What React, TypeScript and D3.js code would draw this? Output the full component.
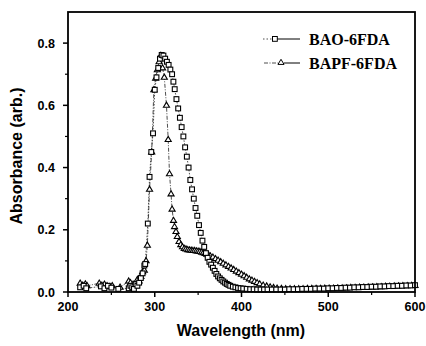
import React from "react";
import * as d3 from "d3";

const baoWavelength = [214,218,221,238,242,246,250,258,270,272,274,276,278,280,282,284,286,288,289,292,294,296,298,300,302,304,306,308,310,312,314,316,318,320,321.5,323,325,327,329,331,333,335,337,339,341,343,345,347,349,351,353,355,357,359,361,363,365,367,369,371,373,375,377,379,381,383,385,387,390,393,396,399,402,406,410,414,418,422,426,430,435,440,445,450,455,460,465,470,475,480,485,490,495,500,505,510,515,520,525,530,535,540,545,550,555,560,565,570,575,580,585,590,595,600];
const baoAbsorbance = [0.015,0.02,0.012,0.018,0.012,0.02,0.014,0.01,0.012,0.02,0.015,0.01,0.025,0.02,0.03,0.045,0.06,0.085,0.09,0.22,0.37,0.45,0.51,0.65,0.69,0.72,0.75,0.762,0.76,0.75,0.74,0.73,0.715,0.70,0.676,0.652,0.62,0.59,0.56,0.53,0.5,0.465,0.435,0.4,0.36,0.33,0.3,0.27,0.245,0.215,0.19,0.165,0.145,0.125,0.11,0.097,0.088,0.078,0.068,0.058,0.05,0.044,0.039,0.034,0.03,0.026,0.023,0.02,0.017,0.015,0.013,0.012,0.011,0.01,0.009,0.009,0.008,0.008,0.008,0.008,0.008,0.008,0.008,0.008,0.009,0.009,0.009,0.01,0.01,0.01,0.011,0.011,0.011,0.012,0.012,0.013,0.013,0.014,0.014,0.015,0.015,0.016,0.016,0.017,0.017,0.018,0.018,0.019,0.019,0.02,0.02,0.021,0.021,0.022];

const bapfWavelength = [214,217,220,222,236,239,242,245,248,251,260,270,272,275,278,280,282,284,286,288,290,291.5,294,296.5,299,301,303,305,307,309,311,313.5,315.5,317,318.8,320,321.6,322.8,324.5,326,328,330,332,334,336,338,340,342,344,346,348,350,352,354,356,358,360,362,364,367,370,373,376,379,382,385,388,391,394,397,400,403,406,409,412,415,418,421,425,429,433,437,441,446,451,456,461,466,471,476,481,486,491,496,501,506,511,516,521,526,531,536,541,546,551,556,561,566,571,576,581,586,591,596,600];
const bapfAbsorbance = [0.028,0.022,0.026,0.02,0.028,0.022,0.025,0.02,0.017,0.02,0.015,0.035,0.03,0.025,0.02,0.04,0.035,0.05,0.065,0.07,0.1,0.15,0.33,0.45,0.65,0.687,0.714,0.74,0.76,0.72,0.69,0.6,0.49,0.38,0.315,0.266,0.23,0.21,0.194,0.178,0.162,0.152,0.145,0.14,0.138,0.136,0.135,0.134,0.133,0.133,0.132,0.131,0.13,0.128,0.126,0.124,0.121,0.119,0.116,0.112,0.107,0.102,0.097,0.092,0.087,0.082,0.077,0.072,0.067,0.062,0.057,0.052,0.047,0.042,0.038,0.034,0.03,0.026,0.022,0.019,0.016,0.014,0.012,0.011,0.01,0.01,0.01,0.01,0.01,0.011,0.011,0.011,0.011,0.012,0.012,0.012,0.013,0.013,0.013,0.014,0.014,0.015,0.015,0.016,0.016,0.017,0.017,0.018,0.018,0.019,0.019,0.02,0.02,0.021,0.021];

const xMajorTicks = [200, 300, 400, 500, 600];
const xMinorTicks = [250, 350, 450, 550];
const yMajorTicks = [0.0, 0.2, 0.4, 0.6, 0.8];
const yMinorTicks = [0.1, 0.3, 0.5, 0.7];
const seriesNames = ["BAO-6FDA", "BAPF-6FDA"];

const W = 426, H = 346;
const left = 68, right = 415, top = 12, bottom = 292;

export default function App() {
  const x = d3.scaleLinear().domain([200, 600]).range([left, right]);
  const y = d3.scaleLinear().domain([0, 0.9]).range([bottom, top]);

  const bao = baoWavelength.map((w, i) => [w, baoAbsorbance[i]] as [number, number]);
  const bapf = bapfWavelength.map((w, i) => [w, bapfAbsorbance[i]] as [number, number]);
  const line = d3.line<[number, number]>().x(d => x(d[0])).y(d => y(d[1]));

  const sans = "Arial, 'Liberation Sans', Helvetica, sans-serif";
  const serif = "'Times New Roman', 'Liberation Serif', serif";

  const tri = (cx: number, cy: number, r: number) =>
    `M${cx},${cy - r}L${cx + r * 0.95},${cy + r * 0.6}L${cx - r * 0.95},${cy + r * 0.6}Z`;

  return (
    <svg width={W} height={H} style={{ position: "absolute", left: 0, top: 0, background: "#fff" }}>
      <rect x={0} y={0} width={W} height={H} fill="#fff" />
      <path d={line(bao) || ""} fill="none" stroke="#222" strokeWidth={0.8} strokeDasharray="1.5,1.5" />
      <path d={line(bapf) || ""} fill="none" stroke="#222" strokeWidth={0.8} strokeDasharray="4,1.5,1,1.5" />
      {bapf.map((d, i) => (
        <path key={"t" + i} d={tri(x(d[0]), y(d[1]), 3.2)} fill="#fff" stroke="#000" strokeWidth={1.1} />
      ))}
      {bao.map((d, i) => (
        <rect key={"s" + i} x={x(d[0]) - 2.4} y={y(d[1]) - 2.4} width={4.8} height={4.8} fill="#fff" stroke="#000" strokeWidth={1.1} />
      ))}
      <rect x={left} y={top} width={right - left} height={bottom - top} fill="none" stroke="#000" strokeWidth={1.8} />
      {xMajorTicks.map(t => (
        <g key={"xm" + t}>
          <line x1={x(t)} x2={x(t)} y1={bottom} y2={bottom + 5} stroke="#000" strokeWidth={1.5} />
          <text x={x(t)} y={311} textAnchor="middle" fontFamily={sans} fontWeight="bold" fontSize={12.5}>{t}</text>
        </g>
      ))}
      {xMinorTicks.map(t => (
        <line key={"xn" + t} x1={x(t)} x2={x(t)} y1={bottom} y2={bottom + 3} stroke="#000" strokeWidth={1.2} />
      ))}
      {yMajorTicks.map(t => (
        <g key={"ym" + t}>
          <line x1={left - 5} x2={left} y1={y(t)} y2={y(t)} stroke="#000" strokeWidth={1.5} />
          <text x={55} y={y(t) + 4.5} textAnchor="end" fontFamily={sans} fontWeight="bold" fontSize={12.5}>{t.toFixed(1)}</text>
        </g>
      ))}
      {yMinorTicks.map(t => (
        <line key={"yn" + t} x1={left - 3} x2={left} y1={y(t)} y2={y(t)} stroke="#000" strokeWidth={1.2} />
      ))}
      <text x={241} y={336} textAnchor="middle" fontFamily={sans} fontWeight="bold" fontSize={16}>Wavelength (nm)</text>
      <text transform={`translate(22,156) rotate(-90)`} textAnchor="middle" fontFamily={sans} fontWeight="bold" fontSize={16}>Absorbance (arb.)</text>
      <g>
        <line x1={263} x2={272} y1={39} y2={39} stroke="#222" strokeWidth={0.8} strokeDasharray="1.5,2" />
        <line x1={277} x2={300} y1={39} y2={39} stroke="#000" strokeWidth={1} />
        <rect x={272.5} y={36.5} width={4.8} height={4.8} fill="#fff" stroke="#000" strokeWidth={1} />
        <text x={309} y={45} fontFamily={serif} fontWeight="bold" fontSize={16}>{seriesNames[0]}</text>
        <line x1={264} x2={278} y1={63} y2={63} stroke="#222" strokeWidth={0.8} strokeDasharray="4,1.5,1,1.5" />
        <line x1={284} x2={300} y1={63} y2={63} stroke="#000" strokeWidth={1} />
        <path d={tri(281, 62.5, 3.2)} fill="#fff" stroke="#000" strokeWidth={1} />
        <text x={309} y={69} fontFamily={serif} fontWeight="bold" fontSize={16}>{seriesNames[1]}</text>
      </g>
    </svg>
  );
}
